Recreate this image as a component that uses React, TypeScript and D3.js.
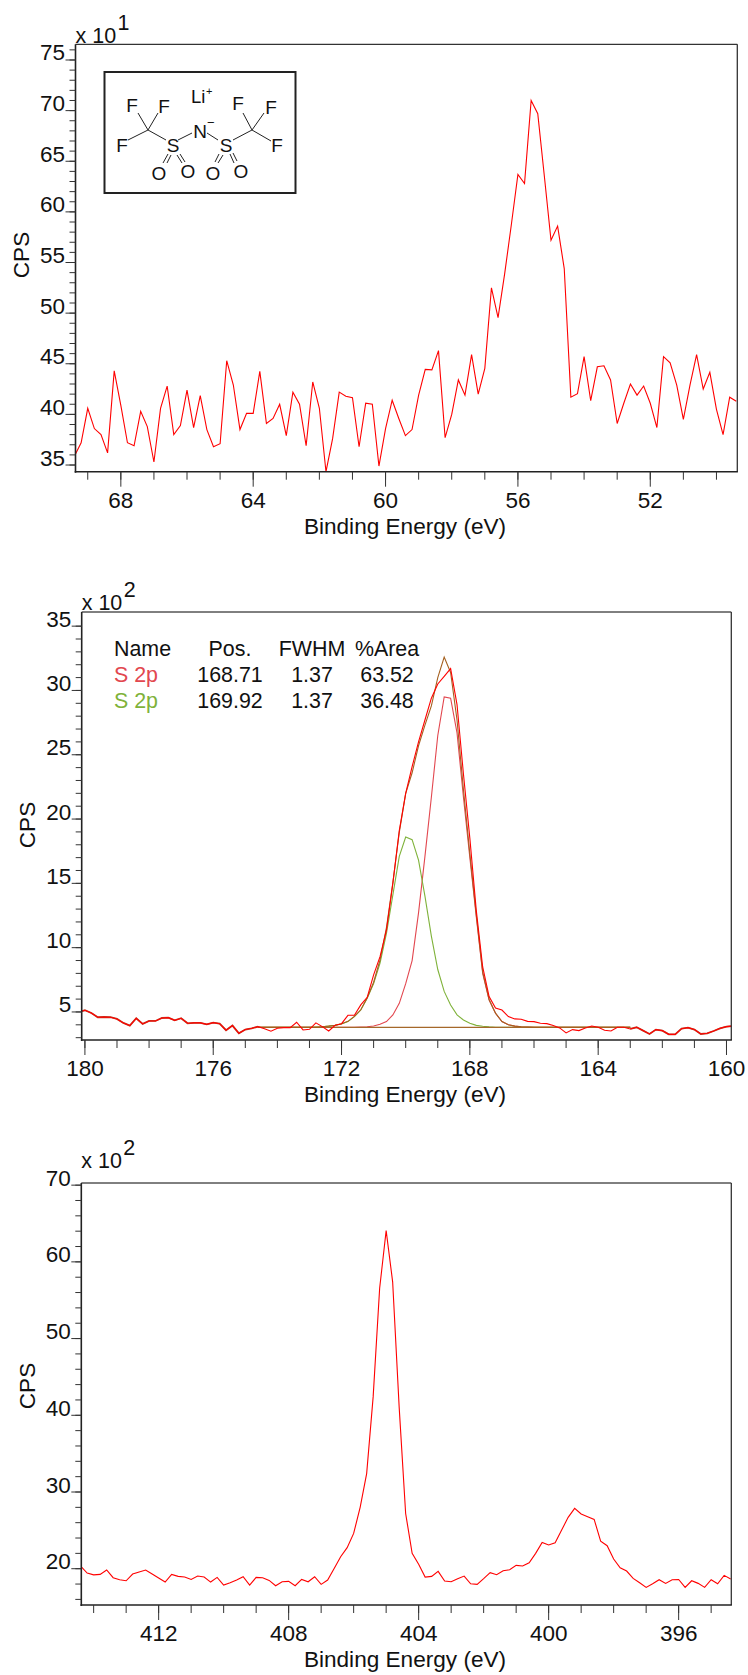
import React from "react";
import * as d3 from "d3";

const xTitle = "Binding Energy (eV)";
const yTitle = "CPS";

// Panel 1 (Li 1s region): counts, one point every 0.2 eV from 69.4 eV
const liStart = 69.4;
const liCounts = [359,372,406,386,380,362,443,409,372,369,403,388,353,406,428,380,389,424,387,418.5,385,368,371,453,429,385,401,401,442.5,391,396,410,379,422,410,369,432,406,343.4,376,422,418,416.5,368,411,410,349,386,414,396,379,385,419,444.5,444,463,377,400,434,419,459,420,445.5,525,495.5,539,587,637,628,710,697,635,572,586,544,417,420.5,457,413.5,447,448,434,391,411,430,419,428,411,387,457,451,429,395,429,459,425,441.5,405,380,417,413];

// Panel 2 (S 2p region): x100 counts, one point every 0.2 eV from 180.2 eV
const sStart = 180.2;
const sRaw = [5.0,5.13,4.92,4.59,4.61,4.59,4.46,4.15,3.94,4.51,4.07,4.3,4.3,4.53,4.56,4.35,4.51,4.12,4.15,4.15,4.04,4.17,4.09,3.58,3.94,3.34,3.63,3.73,3.86,3.7,3.5,3.73,3.78,3.78,4.2,3.6,3.65,4.15,3.86,3.52,3.96,4.09,4.74,4.74,5.55,6.14,7.88,9.3,11.37,15,19.1,22,24.07,26,27.7,29.4,30.5,31.1,31.7,28.9,23.5,18.5,12.9,8.5,6.2,5.3,5.15,4.64,4.46,4.43,4.27,4.25,4.12,4.09,3.94,3.76,3.37,3.63,3.55,3.76,3.91,3.81,3.58,3.52,3.81,3.81,3.68,3.81,3.55,3.29,3.63,3.55,3.26,3.26,3.7,3.78,3.63,3.29,3.34,3.52,3.73,3.86,3.91];
// fitted curves cover 174.6 eV to 163.0 eV
const fitStart = 174.6;
const sPeak1 = [3.8,3.8,3.8,3.8,3.8,3.8,3.8,3.8,3.8,3.8,3.8,3.8,3.8,3.8,3.8,3.8,3.82,3.85,3.91,4.04,4.25,4.77,5.67,7.2,9,12.7,17.1,21.7,26.5,29.5,29.4,26.7,21.7,17,12.4,8,5.93,4.9,4.25,4,3.9,3.85,3.82,3.8,3.8,3.8,3.8,3.8,3.8,3.8,3.8,3.8,3.8,3.8,3.8,3.8,3.8,3.8,3.8];
const sPeak2 = [3.8,3.8,3.8,3.8,3.8,3.8,3.8,3.8,3.8,3.82,3.85,3.9,3.96,4.07,4.25,4.64,5.15,6.06,7.2,8.8,11.1,14.1,17.1,18.6,18.4,16.8,14,10.9,8.3,6.6,5.54,4.77,4.38,4.12,3.96,3.89,3.84,3.81,3.8,3.8,3.8,3.8,3.8,3.8,3.8,3.8,3.8,3.8,3.8,3.8,3.8,3.8,3.8,3.8,3.8,3.8,3.8,3.8,3.8];
const sEnvelope = [3.8,3.8,3.8,3.8,3.8,3.8,3.8,3.8,3.8,3.8,3.85,3.9,3.97,4.08,4.27,4.66,5.17,6.11,7.31,9.04,11.55,15.07,18.97,22,23.6,25.7,27.3,28.8,31,32.6,31.4,27.7,22.3,17.3,12.56,8.1,5.97,4.91,4.25,4,3.9,3.85,3.82,3.8,3.8,3.8,3.8,3.8,3.8,3.8,3.8,3.8,3.8,3.8,3.8,3.8,3.8,3.8,3.8];
const sBackground = [3.8, 3.8];
const sBackgroundEnergy = [174.6, 163.0];

// Panel 3 (N 1s region): x100 counts, one point every 0.2 eV from 414.4 eV
const nStart = 414.4;
const nCounts = [20.35,19.43,19.2,19.26,19.83,18.83,18.57,18.43,19.3,19.57,19.83,19.3,18.78,18.26,19.26,19,18.91,18.6,19.04,18.91,18.26,18.87,17.87,18.17,18.52,18.96,17.87,18.87,18.83,18.48,17.78,18.3,18.35,17.78,18.6,18.3,18.96,17.96,18.52,20.04,21.57,22.74,24.6,28.0,32.4,42.4,56.56,64.07,57.4,41.1,27.2,22,20.57,18.91,19,19.65,18.39,18.3,18.7,19.04,18.04,17.96,18.7,19.48,19.22,19.74,19.87,20.43,20.35,20.78,22,23.43,23.09,23.39,25.04,26.7,27.87,27.13,26.78,26.43,23.6,23,21.26,20.13,19.7,18.74,18.17,17.57,18.04,18.57,18.09,18.57,18.6,17.57,18.43,18.09,17.57,18.57,18.04,19.13,18.65];

const legendHeader = ["Name", "Pos.", "FWHM", "%Area"];
const legendRows = [
  ["S 2p", "168.71", "1.37", "63.52"],
  ["S 2p", "169.92", "1.37", "36.48"],
];
const legendColors = ["#e2474f", "#7fb23a"];

const FONT = "'Liberation Sans', Arial, sans-serif";
const INK = "#111";
const energies = (start: number, n: number) => d3.range(n).map((i) => start - 0.2 * i);

type PanelProps = {
  id: string;
  left: number; right: number; top: number; bottom: number;
  xDomain: [number, number];
  yDomain: [number, number];
  xMajor: number[]; xMinor: number[];
  yMajor: number[]; yMinor: number[];
  yDiv: number;
  exponent: string;
  scaleY: number;
  cpsX: number; cpsY: number;
  children: (x: d3.ScaleLinear<number, number>, y: d3.ScaleLinear<number, number>) => React.ReactNode;
};

function Panel(p: PanelProps) {
  const x = d3.scaleLinear().domain(p.xDomain).range([p.left, p.right]);
  const y = d3.scaleLinear().domain(p.yDomain).range([p.bottom, p.top]);
  return (
    <g fontFamily={FONT} fill={INK}>
      <clipPath id={p.id}>
        <rect x={p.left} y={p.top} width={p.right - p.left} height={p.bottom - p.top} />
      </clipPath>
      <g clipPath={`url(#${p.id})`}>{p.children(x, y)}</g>
      <line x1={p.left} x2={p.right} y1={p.top} y2={p.top} stroke="#000" strokeWidth={1} />
      <line x1={p.right} x2={p.right} y1={p.top} y2={p.bottom} stroke="#333" strokeWidth={1.3} />
      <line x1={p.left} x2={p.left} y1={p.top} y2={p.bottom + 1} stroke="#222" strokeWidth={1.6} />
      <line x1={p.left - 0.8} x2={p.right + 0.6} y1={p.bottom} y2={p.bottom} stroke="#222" strokeWidth={1.6} />
      {p.xMinor.map((v) => (
        <line key={v} x1={x(v)} x2={x(v)} y1={p.bottom} y2={p.bottom + 8} stroke="#333" />
      ))}
      {p.xMajor.map((v) => (
        <g key={v}>
          <line x1={x(v)} x2={x(v)} y1={p.bottom} y2={p.bottom + 15} stroke="#333" />
          <text x={x(v)} y={p.bottom + 36} fontSize={22.5} textAnchor="middle">{v}</text>
        </g>
      ))}
      {p.yMinor.map((v) => (
        <line key={v} x1={p.left} x2={p.left - 6} y1={y(v)} y2={y(v)} stroke="#333" />
      ))}
      {p.yMajor.map((v) => (
        <g key={v}>
          <line x1={p.left} x2={p.left - 10} y1={y(v)} y2={y(v)} stroke="#333" />
          <text x={p.left - 10.5} y={y(v) + 0.5} fontSize={22.5} textAnchor="end">{v / p.yDiv}</text>
        </g>
      ))}
      <text x={p.left} y={p.scaleY} fontSize={21.5}>x 10</text>
      <text x={p.left + 42} y={p.scaleY - 13} fontSize={21.5}>{p.exponent}</text>
      <text x={405} y={p.bottom + 62} fontSize={22.6} textAnchor="middle">{xTitle}</text>
      <text transform={`translate(${p.cpsX},${p.cpsY}) rotate(-90)`} fontSize={22.5} textAnchor="middle">{yTitle}</text>
    </g>
  );
}

const makeLine = (
  x: d3.ScaleLinear<number, number>,
  y: d3.ScaleLinear<number, number>,
  xs: number[], ys: number[]
) => d3.line<number>().x((_, i) => x(xs[i])).y((d) => y(d))(ys) || "";

// Chemical structure inset (drawing, in page pixels)
const bonds = [
  [148,130,138,113],[148,130,158,113],[148,130,128,140],[148,130,166,140],
  [178,140,192,133],[207,133,218,140],[233,140,252,130],[252,130,243,113],
  [252,130,264,113],[252,130,271,141],[168,154,163,163],[171,155,167,163],
  [177,155,182,163],[180,154,185,162],[219,154,215,162],[223,155,218,163],
  [230,154,234,163],[233,153,237,161],
];
const atoms: [string, number, number][] = [
  ["F",132,105],["F",164,106],["F",122,145],["N",200,131],["S",173,145],["S",226,145],
  ["O",159,173],["O",188,171],["O",213,173],["O",241,171],["F",238,103],["F",271,107],["F",277,145],
];

function Structure() {
  return (
    <g fontFamily={FONT} fill={INK}>
      <rect x={104.5} y={72} width={191} height={121} fill="none" stroke="#222" strokeWidth={2} />
      {bonds.map((b, i) => (
        <line key={i} x1={b[0]} y1={b[1]} x2={b[2]} y2={b[3]} stroke="#222" strokeWidth={1} />
      ))}
      {atoms.map((a, i) => (
        <text key={i} x={a[1]} y={a[2]} fontSize={19} textAnchor="middle" dominantBaseline="central">{a[0]}</text>
      ))}
      <text x={191} y={103} fontSize={18.5}>Li</text>
      <text x={206} y={95} fontSize={11}>+</text>
      <text x={207} y={127} fontSize={13}>−</text>
    </g>
  );
}

export default function App() {
  const liX = energies(liStart, liCounts.length);
  const sX = energies(sStart, sRaw.length);
  const fitX = energies(fitStart, sPeak1.length);
  const nX = energies(nStart, nCounts.length);
  return (
    <svg width={748} height={1675} style={{ position: "absolute", left: 0, top: 0 }}>
      <rect width={748} height={1675} fill="#fff" />
      <Panel id="p1" left={75.5} right={737.3} top={44.3} bottom={471.7}
        xDomain={[69.37, 49.37]} yDomain={[343.4, 765.5]}
        xMajor={d3.range(68, 51, -4)} xMinor={d3.range(69, 49, -1)}
        yMajor={d3.range(350, 751, 50)} yMinor={d3.range(350, 761, 10)}
        yDiv={10} exponent="1" scaleY={42.5} cpsX={29} cpsY={255}>
        {(x, y) => <path d={makeLine(x, y, liX, liCounts)} fill="none" stroke="#ff0000" strokeWidth={1.1} />}
      </Panel>
      <Structure />

      <Panel id="p2" left={81.7} right={731.3} top={612} bottom={1040}
        xDomain={[180.1, 159.85]} yDomain={[2.82, 36.1]}
        xMajor={d3.range(180, 159, -4)} xMinor={d3.range(180, 159, -1)}
        yMajor={d3.range(5, 36, 5)} yMinor={d3.range(3, 36, 1)}
        yDiv={1} exponent="2" scaleY={610} cpsX={35} cpsY={825}>
        {(x, y) => (
          <g fill="none">
            <path d={makeLine(x, y, sX.slice(0, 29), sRaw.slice(0, 29))} stroke="#b5452a" strokeWidth={1.8} />
            <path d={makeLine(x, y, sX.slice(86), sRaw.slice(86))} stroke="#b5452a" strokeWidth={1.8} />
            <path d={makeLine(x, y, fitX, sPeak1)} stroke="#e2474f" strokeWidth={1.1} />
            <path d={makeLine(x, y, fitX, sPeak2)} stroke="#7fb23a" strokeWidth={1.1} />
            <path d={makeLine(x, y, sBackgroundEnergy, sBackground)} stroke="#a5682a" strokeWidth={1.3} />
            <path d={makeLine(x, y, fitX, sEnvelope)} stroke="#a5601f" strokeWidth={1.1} />
            <path d={makeLine(x, y, sX, sRaw)} stroke="#ff0000" strokeWidth={1.1} />
          </g>
        )}
      </Panel>
      <g fontFamily={FONT} fontSize={21.4} fill={INK}>
        <text x={114} y={656}>{legendHeader[0]}</text>
        <text x={230} y={656} textAnchor="middle">{legendHeader[1]}</text>
        <text x={312} y={656} textAnchor="middle">{legendHeader[2]}</text>
        <text x={387} y={656} textAnchor="middle">{legendHeader[3]}</text>
        {legendRows.map((r, i) => (
          <g key={i}>
            <text x={114} y={682 + i * 26} fill={legendColors[i]}>{r[0]}</text>
            <text x={230} y={682 + i * 26} textAnchor="middle">{r[1]}</text>
            <text x={312} y={682 + i * 26} textAnchor="middle">{r[2]}</text>
            <text x={387} y={682 + i * 26} textAnchor="middle">{r[3]}</text>
          </g>
        ))}
      </g>

      <Panel id="p3" left={81.3} right={731.3} top={1183} bottom={1605}
        xDomain={[414.38, 394.38]} yDomain={[15.27, 70.28]}
        xMajor={d3.range(412, 395, -4)} xMinor={d3.range(414, 394, -1)}
        yMajor={d3.range(20, 71, 10)} yMinor={d3.range(16, 71, 2)}
        yDiv={1} exponent="2" scaleY={1168} cpsX={35} cpsY={1386}>
        {(x, y) => <path d={makeLine(x, y, nX, nCounts)} fill="none" stroke="#ff0000" strokeWidth={1.1} />}
      </Panel>
    </svg>
  );
}
